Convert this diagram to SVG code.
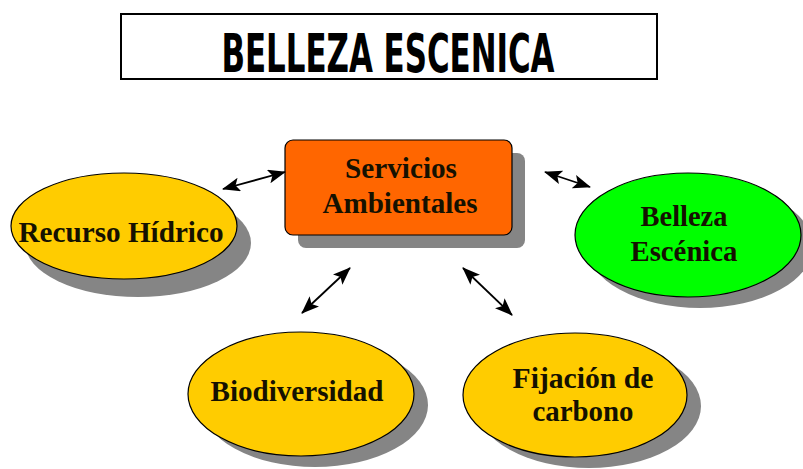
<svg xmlns="http://www.w3.org/2000/svg" width="803" height="469" viewBox="0 0 803 469">
<style>
.lbl{font-family:"Liberation Serif","Times New Roman",serif;font-weight:bold;font-size:30px;fill:#151100;text-anchor:middle}
.node{stroke:#000;stroke-width:1.2}
.shadow{fill:#858585}
.conn{stroke:#000;stroke-width:1.8;fill:none}
</style>
<defs>
<marker id="ah" viewBox="0 0 18 14" refX="17" refY="7" markerWidth="18" markerHeight="14" markerUnits="userSpaceOnUse" orient="auto-start-reverse">
<path d="M0,0 L18,7 L0,14 L4,7 Z" fill="#000"/>
</marker>
</defs>
<rect width="803" height="469" fill="#fff"/>
<g id="title">
<rect x="121" y="14" width="536" height="65" fill="#fff" stroke="#000" stroke-width="2"/>
<text x="388" y="72" font-family="'Liberation Sans Narrow','DejaVu Sans Condensed','Liberation Sans',sans-serif" font-weight="bold" font-size="54" text-anchor="middle" textLength="333" lengthAdjust="spacingAndGlyphs">BELLEZA ESCENICA</text>
</g>
<g id="servicios">
<rect class="shadow" x="298" y="153" width="227" height="95" rx="8"/>
<rect class="node" x="285" y="140" width="227" height="95" rx="8" fill="#FF6600"/>
<text class="lbl" x="401" y="178" textLength="112" lengthAdjust="spacingAndGlyphs">Servicios</text>
<text class="lbl" x="400" y="213" textLength="155" lengthAdjust="spacingAndGlyphs">Ambientales</text>
</g>
<g id="recurso">
<ellipse class="shadow" cx="138" cy="243" rx="113" ry="54"/>
<ellipse class="node" cx="124" cy="226" rx="113" ry="53" fill="#FFCC00"/>
<text class="lbl" x="121" y="242" textLength="205" lengthAdjust="spacingAndGlyphs">Recurso Hídrico</text>
</g>
<g id="belleza">
<ellipse class="shadow" cx="700" cy="246" rx="113" ry="62"/>
<ellipse class="node" cx="688" cy="235" rx="113" ry="62" fill="#00FF00"/>
<text class="lbl" x="684" y="226" textLength="87" lengthAdjust="spacingAndGlyphs">Belleza</text>
<text class="lbl" x="684" y="261" textLength="107" lengthAdjust="spacingAndGlyphs">Escénica</text>
</g>
<g id="biodiversidad">
<ellipse class="shadow" cx="315" cy="405" rx="113" ry="62"/>
<ellipse class="node" cx="301" cy="394" rx="113" ry="62" fill="#FFCC00"/>
<text class="lbl" x="297" y="401" textLength="173" lengthAdjust="spacingAndGlyphs">Biodiversidad</text>
</g>
<g id="fijacion">
<ellipse class="shadow" cx="589" cy="406" rx="112" ry="62"/>
<ellipse class="node" cx="575" cy="395" rx="112" ry="62" fill="#FFCC00"/>
<text class="lbl" x="583" y="388" textLength="141" lengthAdjust="spacingAndGlyphs">Fijación de</text>
<text class="lbl" x="583" y="421" textLength="101" lengthAdjust="spacingAndGlyphs">carbono</text>
</g>
<g id="connectors">
<line class="conn" x1="223" y1="189" x2="285" y2="172" marker-start="url(#ah)" marker-end="url(#ah)"/>
<line class="conn" x1="545" y1="172" x2="590" y2="187" marker-start="url(#ah)" marker-end="url(#ah)"/>
<line class="conn" x1="302" y1="313" x2="350" y2="268" marker-start="url(#ah)" marker-end="url(#ah)"/>
<line class="conn" x1="463" y1="268" x2="512" y2="315" marker-start="url(#ah)" marker-end="url(#ah)"/>
</g>
</svg>
